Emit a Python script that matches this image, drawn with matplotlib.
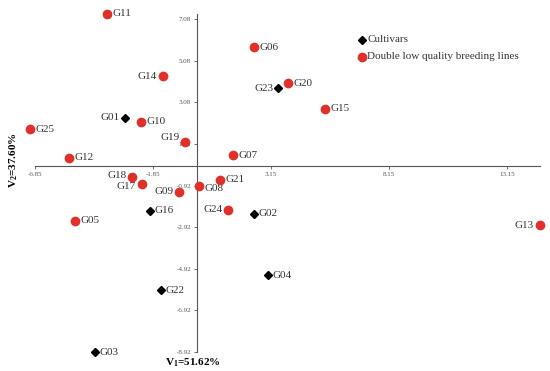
import matplotlib
matplotlib.use("Agg")
import matplotlib.pyplot as plt

plt.rcParams['font.family'] = ['Liberation Serif', 'DejaVu Serif']
plt.rcParams['mathtext.fontset'] = 'custom'
plt.rcParams['mathtext.rm'] = 'Liberation Serif'
plt.rcParams['mathtext.bf'] = 'Liberation Serif:bold'

# genotype scores on the first two components
names = ['G01', 'G02', 'G03', 'G04', 'G05', 'G06', 'G07', 'G08', 'G09', 'G10',
         'G11', 'G12', 'G13', 'G14', 'G15', 'G16', 'G17', 'G18', 'G19', 'G20',
         'G21', 'G22', 'G23', 'G24', 'G25']
v1 = [-3.05, 2.41, -4.30, 3.03, -5.17, 2.43, 1.53, 0.11, -0.76, -2.36,
      -3.80, -5.41, 14.53, -1.44, 5.44, -1.98, -2.32, -2.74, -0.50, 3.86,
      0.99, -1.51, 3.44, 1.34, -7.06]
v2 = [2.35, -2.27, -8.92, -5.22, -2.61, 5.74, 0.54, -0.94, -1.21, 2.15,
      7.33, 0.42, -2.83, 4.34, 2.78, -2.12, -0.83, -0.50, 1.19, 4.00,
      -0.63, -5.95, 3.77, -2.08, 1.80]
cultivars = ['G01', 'G02', 'G03', 'G04', 'G16', 'G22', 'G23']
left_labels = ['G01', 'G09', 'G13', 'G14', 'G17', 'G18', 'G19', 'G23', 'G24']
label_dy = {'G19': 0.2, 'G17': -0.15, 'G08': -0.1, 'G18': 0.05}

xticks = [-6.85, -1.85, 3.15, 8.15, 13.15]
yticks = [-8.92, -6.92, -4.92, -2.92, -0.92, 1.08, 3.08, 5.08, 7.08]

red = '#e0302a'
fig = plt.figure(figsize=(5.5, 3.71), dpi=100)
ax = fig.add_axes([0, 0, 1, 1])
ax.set_xlim(-8.33, 14.97)
ax.set_ylim(-9.83, 8.0)

for n, x, y in zip(names, v1, v2):
    if n in cultivars:
        ax.plot(x, y, marker='D', color='black', markersize=3.8, zorder=3)
        off = 0.2
    else:
        ax.plot(x, y, marker='o', color=red, markersize=6, zorder=3)
        off = 0.24
    if n in left_labels:
        dx, ha = -off, 'right'
    else:
        dx, ha = off, 'left'
    ax.text(x + dx, y + label_dy.get(n, 0), n, ha=ha, va='center',
            fontsize=8, color='#333333')

# legend drawn as markers + text
ax.plot(6.99, 6.1, marker='D', color='black', markersize=3.8)
ax.text(7.22, 6.1, 'Cultivars', va='center', fontsize=8, color='#333333')
ax.plot(6.99, 5.28, marker='o', color=red, markersize=6)
ax.text(7.22, 5.28, 'Double low quality breeding lines', va='center',
        fontsize=8, color='#333333')

for s in ['top', 'right']:
    ax.spines[s].set_visible(False)
ax.spines['left'].set_position(('data', 0))
ax.spines['bottom'].set_position(('data', 0))
ax.spines['left'].set_bounds(-8.92, 7.32)
ax.spines['bottom'].set_bounds(-6.85, 14.55)
for s in ['left', 'bottom']:
    ax.spines[s].set_color('#555555')
    ax.spines[s].set_linewidth(0.8)

ax.set_xticks(xticks)
ax.set_xticklabels([f'{t:.2f}' for t in xticks])
ax.set_yticks(yticks)
ax.set_yticklabels([f'{t:.2f}' for t in yticks])
ax.tick_params(axis='both', labelsize=5, colors='#555555', length=2, width=0.6,
               pad=2)

ax.text(-0.15, -9.45, r'V$_\mathbf{1}$=51.62%', ha='center', va='center',
        fontsize=8, fontweight='bold')
ax.text(-7.74, 0.3, r'V$_\mathbf{2}$=37.60%', ha='center', va='center',
        fontsize=8, fontweight='bold', rotation=90)

fig.savefig('out.png', dpi=100)
